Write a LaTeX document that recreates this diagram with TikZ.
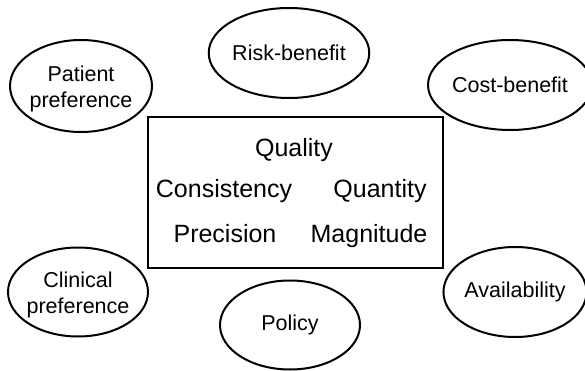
\documentclass[tikz,border=0pt]{standalone}
\usepackage{fontspec}
\setmainfont{Liberation Sans}
\usetikzlibrary{shapes.geometric}
\tikzset{
  oval/.style={draw, ellipse, line width=2pt, inner sep=0pt, align=center,
    font=\fontsize{21.5}{26}\selectfont},
  mainbox/.style={draw, line width=2pt, inner sep=0pt},
  word/.style={inner sep=0pt, font=\fontsize{25}{30}\selectfont}
}
\begin{document}
\begin{tikzpicture}[x=1pt,y=-1pt]
\useasboundingbox (0,0) rectangle (585,371);
\node[oval, minimum width=142pt, minimum height=92pt] (patient) at (81,86) {};
\node[align=center, inner sep=0pt, font=\fontsize{21.5}{26}\selectfont] (patienttext) at (81,89) {Patient\\preference};
\node[oval, minimum width=142pt, minimum height=90pt] (risk) at (289,53) {Risk-benefit};
\node[oval, minimum width=136pt, minimum height=90pt] (cost) at (510,85) {Cost-benefit};
\node[oval, minimum width=140pt, minimum height=89pt] (clinical) at (78,292) {};
\node[align=center, inner sep=0pt, font=\fontsize{21.5}{26}\selectfont] (clinicaltext) at (78,295) {Clinical\\preference};
\node[oval, minimum width=140pt, minimum height=89pt] (policy) at (290,325) {Policy};
\node[oval, minimum width=137pt, minimum height=90pt] (avail) at (515,292) {Availability};
\node[mainbox, minimum width=295pt, minimum height=151pt] (box) at (295.5,192.5) {};
\node[word] (quality) at (294,150) {Quality};
\node[word] (consistency) at (224,191) {Consistency};
\node[word] (quantity) at (380,191) {Quantity};
\node[word] (precision) at (225,234) {Precision};
\node[word] (magnitude) at (369,236) {Magnitude};
\end{tikzpicture}
\end{document}
